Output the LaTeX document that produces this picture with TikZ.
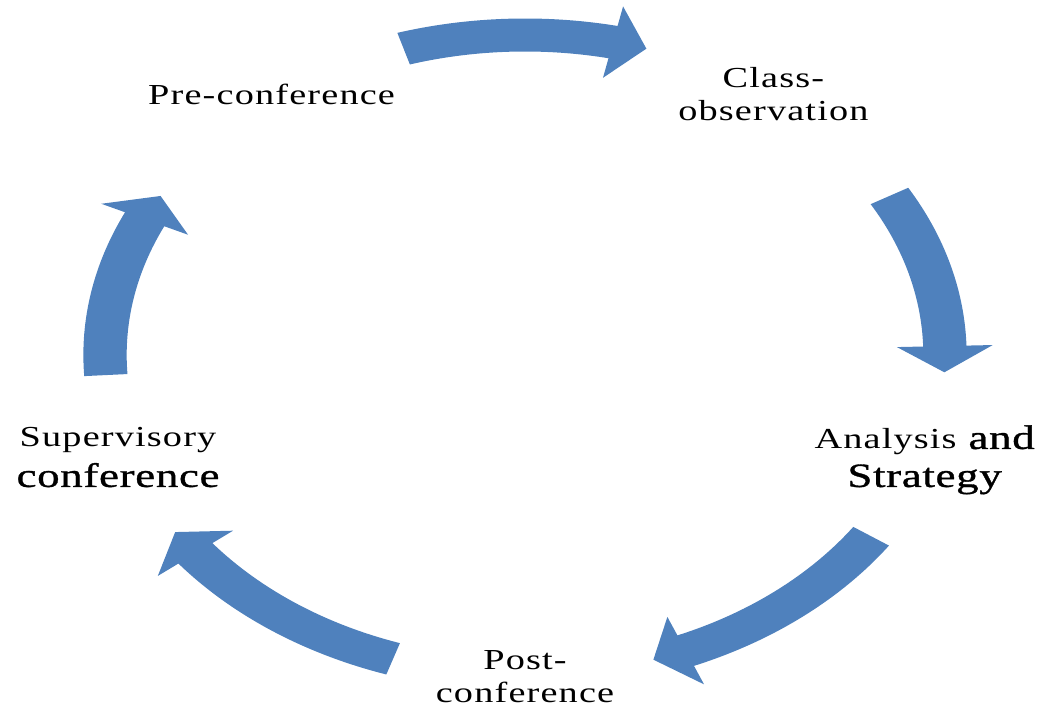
\documentclass[tikz,border=0pt]{standalone}
\usepackage{fontspec}
\setmainfont[FakeStretch=1.32,LetterSpace=4]{Liberation Serif}
\newfontface\bigface[FakeStretch=1.32,LetterSpace=2,FakeBold=1]{Liberation Serif}

\definecolor{cycleblue}{RGB}{79,129,189}
\newcommand{\stagefont}{\normalfont\fontsize{29}{33}\selectfont}
\newcommand{\stagebigfont}{\bigface\fontsize{34}{38}\selectfont}

\begin{document}
\begin{tikzpicture}[x=1pt,y=1pt,
	stagelabel/.style={align=center,font=\stagefont},
	stagebig/.style={align=center,font=\stagebigfont}]
	\useasboundingbox (-525,-353) rectangle (518,355);

	\begin{scope}[xscale=1.3125]
	%% Block arrows (tail angle / tip angle)
	\foreach \tail/\tip in {106.8/73.2, 29.8/-3.1, -34.5/-72.2, -108.3/-146.4, 183.6/150.2} {
		\pgfmathsetmacro{\base}{\tip+4.7}
		\fill [cycleblue] (\tail:336.5) arc (\tail:\base:336.5) -- (\base:356.5)
			-- (\tip:320) -- (\base:283.5) -- (\base:303.5) arc (\base:\tail:303.5) -- cycle;
	}

	%% Stage labels
	\node [stagelabel,xshift=-5] (pre) at (126:322) {Pre-conference};
	\node [stagelabel] (observe) at (54:322) {Class-\\observation};
	\node [stagebig] (analysis) at (-19:322) {{\stagefont Analysis} and\\Strategy};
	\node [stagelabel] (post) at (-90:322) {Post-\\conference};
	\node [stagelabel,xshift=-5,yshift=-3] (supervise) at (-162:322) {Supervisory\\[7pt]{\stagebigfont conference}};
	\end{scope}
\end{tikzpicture}
\end{document}
